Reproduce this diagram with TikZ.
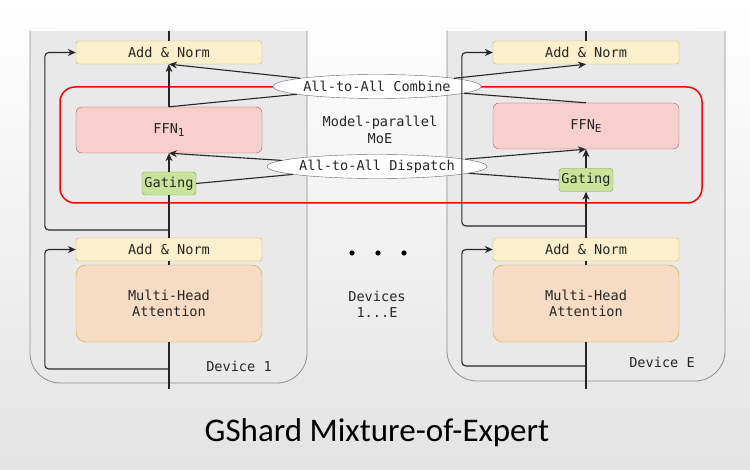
\documentclass[tikz,border=0pt]{standalone}
\usepackage{fontspec}
\setmonofont{DejaVu Sans Mono}
\setsansfont{Carlito}
\usetikzlibrary{arrows.meta,positioning,shapes.geometric}
\definecolor{normfill}{HTML}{FBF0CB}
\definecolor{normline}{HTML}{D6B656}
\definecolor{ffnfill}{HTML}{F7CFCC}
\definecolor{ffnline}{HTML}{B85450}
\definecolor{gatefill}{HTML}{C9E49A}
\definecolor{gateline}{HTML}{7F9A55}
\definecolor{attnfill}{HTML}{F6DCC4}
\definecolor{attnline}{HTML}{D7A028}
\definecolor{devfill}{HTML}{E9E9E9}
\definecolor{devline}{HTML}{8E8E8E}
\newcommand{\sub}[1]{\raisebox{-3pt}{\fontsize{11}{11}\selectfont #1}}
\tikzset
{
    boxtext/.style = {font=\ttfamily\fontsize{13.6}{16.5}\selectfont, text=black!85, align=center, inner sep=0pt},
    addnorm/.style = {boxtext, rectangle, rounded corners=3pt, draw=normline, fill=normfill, minimum width=186pt, minimum height=23pt},
    ffnbox/.style  = {boxtext, rectangle, rounded corners=6pt, draw=ffnline, fill=ffnfill, minimum width=186pt, minimum height=46pt},
    gatebox/.style = {boxtext, rectangle, rounded corners=3pt, draw=gateline, fill=gatefill, minimum width=54pt, minimum height=23pt},
    attnbox/.style = {boxtext, rectangle, rounded corners=10pt, draw=attnline, fill=attnfill, minimum width=186pt, minimum height=77pt},
    commnode/.style = {boxtext, ellipse, draw=black!60, fill=white, minimum width=185pt, minimum height=24pt},
    plaintext/.style = {boxtext},
    arr/.style = {-{Stealth[length=8pt,width=7pt]}},
    flow/.style = {draw=black!85, line width=1.1pt}
}
\begin{document}
\begin{tikzpicture}[x=1pt, y=-1pt]
\useasboundingbox (0,0) rectangle (750,470);
\shade[top color=white, bottom color=black!11] (0,0) rectangle (750,470);
% devices
\fill[devfill, rounded corners=30pt] (30,31) rectangle (307,383);
\fill[devfill] (30,31) rectangle (307,200);
\draw[devline, line width=0.8pt, rounded corners=30pt] (30,31) -- (30,383) -- (307,383) -- (307,31);
\fill[devfill, rounded corners=30pt] (447,31) rectangle (725,381);
\fill[devfill] (447,31) rectangle (725,200);
\draw[devline, line width=0.8pt, rounded corners=30pt] (447,31) -- (447,381) -- (725,381) -- (725,31);
% moe region
\draw[red, line width=1.5pt, rounded corners=15pt] (60,87) rectangle (702,203);

% device 1
\node[addnorm] (an1) at (169,52.5) {Add \& Norm};
\node[ffnbox] (ffn1) at (169,130) {FFN\sub{1}};
\node[gatebox] (gate1) at (169,183.5) {Gating};
\node[addnorm] (anl1) at (169,249.5) {Add \& Norm};
\node[attnbox] (mha1) at (169,303.5) {Multi-Head\\Attention};
\node[plaintext] (dev1) at (239,366) {Device 1};
\coordinate (top1) at (169,31);
\coordinate (bot1) at (169,389);
\coordinate (res1up) at (169,230);
\coordinate (res1lo) at (169,369);

% device E
\node[addnorm] (anE) at (586,52.5) {Add \& Norm};
\node[ffnbox] (ffnE) at (586,126) {FFN\sub{E}};
\node[gatebox] (gateE) at (586,180) {Gating};
\node[addnorm] (anlE) at (586,249.5) {Add \& Norm};
\node[attnbox] (mhaE) at (586,303.5) {Multi-Head\\Attention};
\node[plaintext] (devE) at (662,362) {Device E};
\coordinate (topE) at (586,31);
\coordinate (botE) at (586,389);
\coordinate (resEup) at (586,226);
\coordinate (resElo) at (586,366);

% middle
\node[commnode] (comb) at (377,86.5) {All-to-All Combine};
\node[commnode] (disp) at (377,166.5) {All-to-All Dispatch};
\node[plaintext] (moe) at (380,130) {Model-parallel\\MoE};
\node[plaintext] (devs) at (377,304.5) {Devices\\1...E};
\foreach \x in {352,378,404}
    \fill (\x,253) circle (2.6pt);

% main flow
\draw[flow] (top1) -- (an1.north);
\draw[flow,arr] (ffn1.north) -- (an1.south);
\draw[flow,arr] (gate1.north) -- (ffn1.south);
\draw[flow] (anl1.north) -- (gate1.south);
\draw[flow] (mha1.north) -- (anl1.south);
\draw[flow] (bot1) -- (mha1.south);
\draw[flow,arr,rounded corners=4pt] (res1up) -| ([xshift=-31pt]an1.west) -- (an1.west);
\draw[flow,arr,rounded corners=4pt] (res1lo) -| ([xshift=-31pt]anl1.west) -- (anl1.west);

\draw[flow] (topE) -- (anE.north);
\draw[flow,arr] (gateE.north) -- (ffnE.south);
\draw[flow,arr] (anlE.north) -- (gateE.south);
\draw[flow] (mhaE.north) -- (anlE.south);
\draw[flow] (botE) -- (mhaE.south);
\draw[flow,arr,rounded corners=4pt] (resEup) -| ([xshift=-31pt]anE.west) -- (anE.west);
\draw[flow,arr,rounded corners=4pt] (resElo) -| ([xshift=-31pt]anlE.west) -- (anlE.west);

% all-to-all
\draw[flow] (ffn1.north) -- (comb);
\draw[flow,arr] (comb) -- (an1.south);
\draw[flow] (ffnE.north) -- (comb);
\draw[flow,arr] (comb) -- (anE.south);
\draw[flow] (gate1.east) -- (disp);
\draw[flow,arr] (disp) -- (ffn1.south);
\draw[flow] (gateE.west) -- (disp);
\draw[flow,arr] (disp) -- (ffnE.south);

\node[font=\sffamily\fontsize{33}{40}\selectfont] (title) at (377,433) {GShard Mixture-of-Expert};
\end{tikzpicture}
\end{document}
